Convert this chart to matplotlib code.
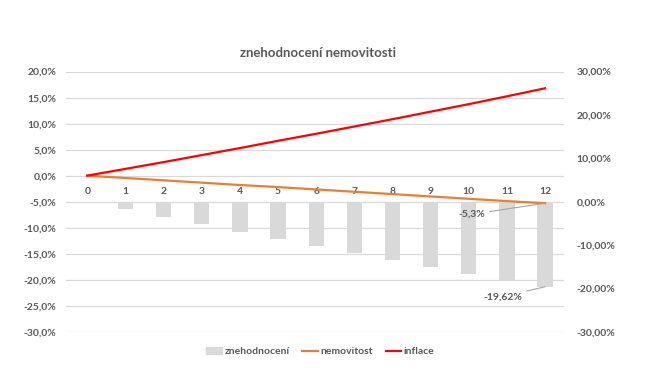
"""Recreate the 'znehodnocení nemovitosti' combo chart."""

import matplotlib

matplotlib.use("Agg")
import matplotlib.pyplot as plt
from matplotlib.lines import Line2D
from matplotlib.patches import Patch
from matplotlib.ticker import FuncFormatter

years = list(range(13))
inflace = [0.0, 1.3, 2.6, 3.95, 5.3, 6.7, 8.05, 9.45, 10.85, 12.3, 13.75, 15.25, 16.8]
nemovitost = [0.0, -0.45, -0.9, -1.35, -1.8, -2.2, -2.65, -3.1, -3.55, -4.0, -4.45, -4.9, -5.3]
znehodnoceni = [0.0, -1.75, -3.45, -5.2, -6.95, -8.6, -10.2, -11.9, -13.5, -15.1, -16.7, -18.1, -19.62]

GREY_TXT = "#595959"
BAR_C = "#d9d9d9"
ORANGE = "#ed7d31"
RED = "#ff0000"

plt.rcParams["font.family"] = ["Lato", "DejaVu Sans"]
plt.rcParams["font.weight"] = "bold"

fig = plt.figure(figsize=(6.5, 3.83), dpi=100)
ax = fig.add_axes([0.102, 0.134, 0.766, 0.679])
ax2 = ax.twinx()

# bars on the secondary (right) axis, lines on the primary (left) axis
ax2.bar(years, znehodnoceni, width=0.4, color=BAR_C, zorder=1)
ax.plot(years, nemovitost, color=ORANGE, linewidth=1.6, zorder=3)
ax.plot(years, inflace, color=RED, linewidth=1.6, zorder=4)

ax.set_zorder(2)
ax.patch.set_visible(False)

ax.set_ylim(-30, 20)
ax.set_yticks(range(-30, 21, 5))
ax2.set_ylim(-30, 30)
ax2.set_yticks(range(-30, 31, 10))
ax.set_xlim(-0.55, 12.5)
ax.set_xticks(years)

ax.yaxis.set_major_formatter(FuncFormatter(lambda v, p: f"{v:.1f}%".replace(".", ",")))
ax2.yaxis.set_major_formatter(FuncFormatter(lambda v, p: f"{v:.2f}%".replace(".", ",")))

ax.grid(axis="y", color="#d9d9d9", linewidth=0.9)
ax.set_axisbelow(True)

for a in (ax, ax2):
    for s in a.spines.values():
        s.set_visible(False)
    a.tick_params(axis="both", length=0, labelsize=7.5, labelcolor=GREY_TXT)

ax.tick_params(axis="y", pad=7)
ax2.tick_params(axis="y", pad=9)
ax.spines["bottom"].set_position(("data", 0))
ax.tick_params(axis="x", pad=8)

# data labels with leader lines
ax.annotate("-5,3%", xy=(years[-1], nemovitost[-1]), xytext=(-73, -11),
            textcoords="offset pixels", fontsize=7.5, color=GREY_TXT,
            ha="center", va="center",
            arrowprops=dict(arrowstyle="-", color="#a6a6a6", lw=0.8,
                            shrinkA=1, shrinkB=0))
ax2.annotate("-19,62%", xy=(years[-1], znehodnoceni[-1]), xytext=(-42, -10),
             textcoords="offset pixels", fontsize=7.5, color=GREY_TXT,
             ha="center", va="center",
             arrowprops=dict(arrowstyle="-", color="#a6a6a6", lw=0.8,
                             shrinkA=1, shrinkB=0))

fig.text(0.489, 0.862, "znehodnocení nemovitosti", ha="center", va="center",
         fontsize=9.5, color=GREY_TXT)

handles = [
    Patch(color=BAR_C, label="znehodnocení"),
    Line2D([], [], color=ORANGE, linewidth=1.6, label="nemovitost"),
    Line2D([], [], color=RED, linewidth=1.6, label="inflace"),
]
leg = fig.legend(handles=handles, loc="center", bbox_to_anchor=(0.493, 0.082),
                 ncol=3, frameon=False, fontsize=7.5, handlelength=1.5,
                 handleheight=0.6, handletextpad=0.25, columnspacing=1.2)
for t in leg.get_texts():
    t.set_color(GREY_TXT)

fig.savefig("out.png", dpi=100, facecolor="white")
